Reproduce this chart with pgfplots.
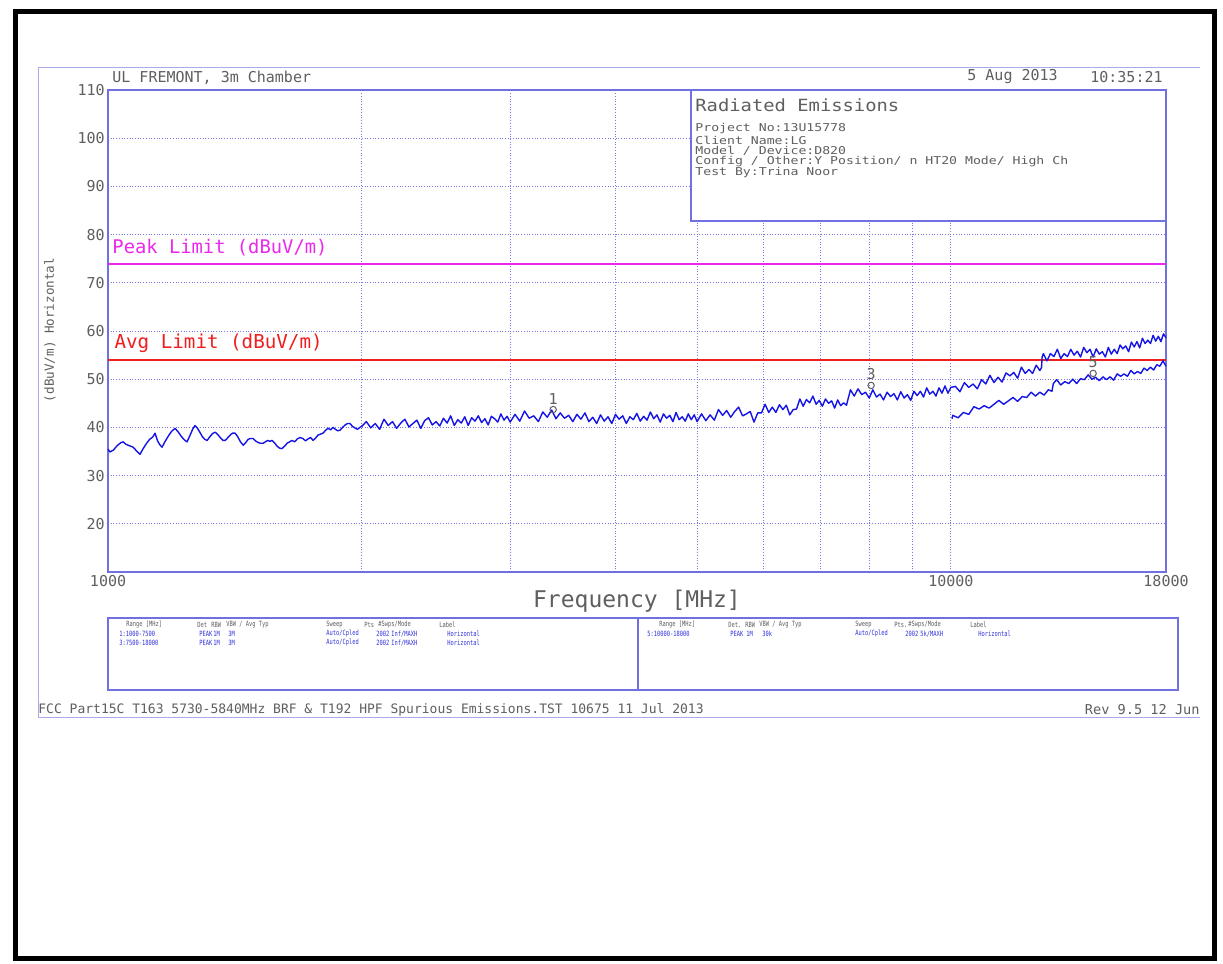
\documentclass[border=0pt]{standalone}
\usepackage{pgfplots}
\pgfplotsset{compat=1.18}
\usepackage{pgfplotstable}
\usepackage{fontspec}
\setmainfont{DejaVu Sans}
\newfontfamily\plotfont{DejaVu Sans Mono}
\newfontfamily\infofont[FakeStretch=1.12]{DejaVu Sans Mono}
\newfontfamily\widefont[FakeStretch=1.22]{DejaVu Sans Mono}
\newfontfamily\tabff[FakeStretch=0.75]{DejaVu Sans Mono}

\definecolor{frameblue}{RGB}{112,112,226}
\definecolor{gridblue}{RGB}{120,120,228}
\definecolor{tracecol}{RGB}{20,20,230}
\definecolor{txtgray}{RGB}{95,95,95}
\definecolor{peakmag}{RGB}{235,40,235}
\definecolor{avgred}{RGB}{240,30,30}
\definecolor{pagefr}{RGB}{170,170,235}
\definecolor{tabblue}{RGB}{50,50,220}

% peak trace, ranges 1 and 3 (1000-18000 MHz)
\pgfplotstableread{
f v
1000 35.5
1005 34.9
1015 35.3
1025 36.2
1035 36.8
1042 37.0
1050 36.5
1060 36.2
1071 35.9
1080 35.2
1091 34.4
1100 35.5
1110 36.6
1120 37.5
1130 38.0
1137 38.8
1145 37.2
1152 36.4
1159 35.9
1168 37.0
1180 38.3
1190 39.2
1201 39.8
1212 39.0
1222 38.1
1232 37.4
1241 37.0
1250 38.2
1260 39.6
1268 40.4
1276 39.9
1285 39.0
1295 38.0
1303 37.5
1311 37.3
1320 38.0
1330 38.7
1340 39.0
1350 38.5
1360 37.8
1369 37.3
1377 37.3
1386 37.8
1396 38.4
1405 38.8
1415 38.8
1425 38.1
1436 37.0
1447 36.3
1456 36.8
1466 37.5
1476 37.7
1486 37.7
1496 37.2
1506 36.9
1516 36.7
1527 36.7
1537 37.0
1547 37.3
1557 37.1
1565 37.3
1576 36.8
1587 36.1
1598 35.7
1608 35.6
1620 36.1
1631 36.7
1642 37.0
1653 37.3
1665 37.0
1677 37.6
1690 37.9
1703 37.7
1715 37.2
1727 37.6
1739 37.9
1751 37.3
1763 37.8
1775 38.4
1787 38.6
1799 38.8
1812 39.4
1824 39.8
1837 39.5
1849 40.0
1861 39.6
1873 39.3
1885 39.4
1898 40.0
1911 40.5
1924 40.8
1937 40.8
1950 40.2
1963 39.9
1977 39.6
1990 40.0
2000 40.2
2025 41.2
2050 39.9
2075 40.8
2100 39.6
2125 41.7
2150 40.4
2175 41.2
2200 39.8
2225 40.9
2250 41.7
2275 40.1
2300 40.8
2325 41.5
2350 39.8
2375 41.4
2400 42.0
2425 40.5
2450 41.2
2475 40.3
2500 41.9
2525 40.9
2550 42.4
2575 40.4
2600 41.6
2625 40.9
2650 42.2
2675 40.4
2700 42.0
2725 41.3
2750 42.4
2775 41.0
2800 41.8
2825 40.5
2850 42.3
2875 41.8
2900 41.1
2925 42.8
2950 41.5
2975 42.3
3000 41.1
3040 42.7
3080 41.3
3120 43.4
3160 41.9
3200 42.4
3240 41.2
3280 43.2
3320 42.1
3360 43.6
3400 41.8
3440 43.0
3480 41.9
3520 42.5
3560 41.2
3600 42.7
3640 41.7
3680 43.0
3720 41.2
3760 42.1
3800 40.8
3840 42.6
3880 41.3
3920 42.2
3960 40.8
4000 42.7
4040 41.7
4080 42.4
4120 40.8
4160 42.2
4200 41.6
4240 42.9
4280 41.3
4320 42.3
4360 41.5
4400 43.2
4440 41.8
4480 42.6
4520 41.1
4560 42.8
4600 41.9
4640 42.5
4680 41.2
4720 43.1
4760 41.6
4800 42.2
4840 41.3
4880 42.8
4920 41.6
4960 42.6
5000 41.2
5060 42.8
5120 41.4
5180 42.6
5240 41.5
5300 43.7
5360 42.5
5420 43.5
5480 42.1
5540 43.3
5600 44.2
5660 42.4
5720 42.8
5780 43.3
5840 41.1
5900 43.0
5960 43.0
6020 44.8
6080 43.1
6140 44.2
6200 43.1
6260 44.7
6320 43.7
6380 44.6
6440 42.6
6500 43.7
6560 43.8
6620 45.9
6680 44.4
6740 45.8
6800 45.1
6860 46.5
6920 44.8
6980 45.6
7040 44.4
7100 45.9
7160 45.0
7220 45.5
7280 44.0
7340 45.7
7400 44.5
7460 45.1
7520 44.6
7600 47.8
7680 46.5
7760 48.0
7840 46.8
7920 47.3
8000 46.1
8080 47.8
8160 46.3
8240 46.9
8320 45.7
8400 47.3
8480 46.4
8560 47.0
8640 45.7
8720 47.4
8800 46.1
8880 46.8
8960 45.6
9040 47.5
9120 46.6
9200 47.5
9280 46.3
9360 48.2
9440 46.9
9520 47.5
9600 46.5
9680 48.2
9760 47.1
9840 48.6
9920 47.1
10000 48.3
10125 48.5
10250 47.4
10375 49.3
10500 48.3
10625 49.0
10750 48.0
10875 49.9
11000 49.0
11125 50.8
11250 49.3
11375 50.4
11500 49.4
11625 51.3
11750 50.7
11875 51.4
12000 50.2
12125 52.5
12250 51.2
12375 52.0
12500 51.2
12625 52.9
12750 51.8
12810 52.4
12830 54.6
12875 55.3
13000 53.8
13125 55.3
13250 54.7
13375 56.2
13500 54.3
13625 55.3
13750 54.7
13875 56.2
14000 55.0
14125 55.8
14250 54.6
14375 56.6
14500 55.5
14625 56.2
14750 54.6
14875 56.3
15000 55.2
15125 55.7
15250 54.6
15375 56.6
15500 55.2
15625 56.2
15750 55.3
15875 57.1
16000 56.3
16125 56.9
16250 55.7
16375 57.7
16500 56.7
16625 57.8
16750 56.5
16875 58.5
17000 57.4
17125 58.1
17250 57.4
17375 59.1
17500 57.9
17625 58.9
17750 57.8
17875 59.4
18000 58.6
}\peaktrace

% range 5 trace (10000-18000 MHz)
\pgfplotstableread{
f v
10030 41.8
10050 42.5
10200 42.0
10350 43.1
10500 42.7
10650 44.3
10800 43.8
10950 44.5
11100 44.0
11250 44.8
11400 45.6
11550 44.8
11700 45.5
11850 46.2
12000 45.4
12150 46.4
12300 46.2
12450 47.3
12600 46.5
12750 47.3
12900 46.7
13050 47.8
13180 47.5
13230 49.1
13350 49.9
13500 48.8
13650 49.5
13800 49.1
13950 50.0
14100 49.1
14250 50.1
14400 49.9
14550 50.9
14700 50.0
14850 50.4
15000 49.7
15150 50.5
15300 49.9
15450 50.5
15600 49.8
15750 51.1
15900 50.6
16050 51.1
16200 50.6
16350 51.8
16500 51.1
16650 51.6
16800 51.2
16950 52.3
17100 51.8
17250 52.5
17400 51.9
17550 53.0
17700 52.7
17850 53.8
18000 52.7
}\lowtrace

\newcommand{\tabfont}{\tabff\fontsize{3.6}{4}\selectfont}
\newcommand{\tx}[4]{\node[anchor=west,inner sep=0pt,font=\tabfont,text=#4] at (#1,#2) {#3};}

\begin{document}
\begin{tikzpicture}
\path[use as bounding box] (0,0) rectangle (611.5pt,482pt);
\fill[white] (0,0) rectangle (611.5pt,482pt);

% page frames, drawn in pixel units (y downwards)
\begin{scope}[x=0.5pt,y=-0.5pt,yshift=482pt]
  \draw[line width=2.5pt] (15,12) rectangle (1214,959);
  \draw[pagefr,line width=0.5pt] (1200,68) -- (38,68) -- (38,718) -- (1200,718);
\end{scope}

\begin{axis}[
  at={(54pt,196pt)}, anchor=south west,
  width=529pt, height=241pt, scale only axis,
  xmode=log, xmin=1000, xmax=18000, ymin=10, ymax=110,
  xtick={1000,10000,18000}, xticklabels={1000,10000,18000},
  minor xtick={2000,3000,4000,5000,6000,7000,8000,9000},
  ytick={20,30,40,50,60,70,80,90,100,110},
  yticklabels={20,30,40,50,60,70,80,90,100,110},
  major tick length=0pt, minor tick length=0pt,
  xmajorgrids, xminorgrids, ymajorgrids,
  major grid style={gridblue, line width=0.45pt, dash pattern=on 0.45pt off 0.9pt},
  minor grid style={gridblue, line width=0.45pt, dash pattern=on 0.45pt off 0.9pt},
  axis line style={frameblue, line width=0.7pt},
  tick label style={font=\plotfont\fontsize{7.5}{9}\selectfont, text=txtgray,
    /pgf/number format/assume math mode=true},
  xticklabel style={inner sep=0pt, yshift=-1.5pt},
  yticklabel style={inner sep=0pt, xshift=-1.5pt},
  clip=false,
]
\addplot[peakmag, line width=1pt] coordinates {(1000,74) (18000,74)};
\addplot[avgred, line width=1pt] coordinates {(1000,54) (18000,54)};
\node[anchor=south west, inner sep=0pt, font=\plotfont\fontsize{9.4}{11}\selectfont, text=peakmag]
  at (axis cs:1011,75.4) {Peak Limit (dBuV/m)};
\node[anchor=south west, inner sep=0pt, font=\plotfont\fontsize{9.6}{11}\selectfont, text=avgred]
  at (axis cs:1017,55.4) {Avg Limit (dBuV/m)};

\addplot[tracecol, line width=0.7pt, line join=round] table[x=f, y=v] {\peaktrace};
\addplot[tracecol, line width=0.7pt, line join=round] table[x=f, y=v] {\lowtrace};

\addplot[only marks, mark=o, mark size=1.6pt, mark options={txtgray, line width=0.5pt},
  nodes near coords, point meta=explicit symbolic,
  every node near coord/.append style={font=\plotfont\fontsize{7.5}{9}\selectfont, text=txtgray, inner sep=0.5pt, yshift=2pt}]
  coordinates {(3374,43.7)[1] (8041,48.7)[3] (14750,51.2)[5]};
\end{axis}

\begin{scope}[x=0.5pt,y=-0.5pt,yshift=482pt]
  % info box
  \filldraw[fill=white, draw=frameblue, line width=0.6pt] (691,90) rectangle (1166,221);
  \node[anchor=west, inner sep=0pt, font=\infofont\fontsize{8.4}{10}\selectfont, text=txtgray] at (695,105) {Radiated Emissions};
  \begin{scope}[every node/.style={anchor=west, inner sep=0pt, font=\widefont\fontsize{5.4}{6.5}\selectfont, text=txtgray}]
    \node at (695,129) {Project No:13U15778};
    \node at (695,140) {Client Name:LG};
    \node at (695,151) {Model / Device:D820};
    \node at (695,162) {Config / Other:Y Position/ n HT20 Mode/ High Ch};
    \node at (695,173) {Test By:Trina Noor};
  \end{scope}

  % header
  \node[anchor=west, inner sep=0pt, font=\plotfont\fontsize{7.5}{9}\selectfont, text=txtgray] at (112,78) {UL FREMONT, 3m Chamber};
  \node[anchor=west, inner sep=0pt, font=\plotfont\fontsize{7.5}{9}\selectfont, text=txtgray] at (967,77) {5 Aug 2013};
  \node[anchor=east, inner sep=0pt, font=\plotfont\fontsize{7.5}{9}\selectfont, text=txtgray] at (1163,77) {10:35:21};

  % axis titles
  \node[inner sep=0pt, font=\plotfont\fontsize{11.5}{13}\selectfont, text=txtgray] at (637,601) {Frequency [MHz]};
  \node[inner sep=0pt, rotate=90, font=\plotfont\fontsize{6.3}{8}\selectfont, text=txtgray] at (50,330) {(dBuV/m) Horizontal};

  % range tables
  \draw[frameblue, line width=0.6pt] (108,618) rectangle (1178,690);
  \draw[frameblue, line width=0.6pt] (638,618) -- (638,690);
  \tx{126}{625}{Range [MHz]}{txtgray}
  \tx{197}{625}{Det}{txtgray}
  \tx{211}{625}{RBW}{txtgray}
  \tx{226}{625}{VBW / Avg Typ}{txtgray}
  \tx{326}{625}{Sweep}{txtgray}
  \tx{364}{625}{Pts}{txtgray}
  \tx{378}{625}{\#Swps/Mode}{txtgray}
  \tx{439}{625}{Label}{txtgray}
  \tx{119}{634}{1:1000-7500}{tabblue}
  \tx{199}{634}{PEAK}{tabblue}
  \tx{213}{634}{1M}{tabblue}
  \tx{228}{634}{3M}{tabblue}
  \tx{326}{634}{Auto/Cpled}{tabblue}
  \tx{376}{634}{2002}{tabblue}
  \tx{391}{634}{Inf/MAXH}{tabblue}
  \tx{447}{634}{Horizontal}{tabblue}
  \tx{119}{643}{3:7500-18000}{tabblue}
  \tx{199}{643}{PEAK}{tabblue}
  \tx{213}{643}{1M}{tabblue}
  \tx{228}{643}{3M}{tabblue}
  \tx{326}{643}{Auto/Cpled}{tabblue}
  \tx{376}{643}{2002}{tabblue}
  \tx{391}{643}{Inf/MAXH}{tabblue}
  \tx{447}{643}{Horizontal}{tabblue}
  \tx{659}{625}{Range [MHz]}{txtgray}
  \tx{728}{625}{Det.}{txtgray}
  \tx{745}{625}{RBW}{txtgray}
  \tx{759}{625}{VBW / Avg Typ}{txtgray}
  \tx{855}{625}{Sweep}{txtgray}
  \tx{894}{625}{Pts.}{txtgray}
  \tx{908}{625}{\#Swps/Mode}{txtgray}
  \tx{970}{625}{Label}{txtgray}
  \tx{647}{634}{5:10000-18000}{tabblue}
  \tx{730}{634}{PEAK}{tabblue}
  \tx{746}{634}{1M}{tabblue}
  \tx{762}{634}{30k}{tabblue}
  \tx{855}{634}{Auto/Cpled}{tabblue}
  \tx{905}{634}{2002}{tabblue}
  \tx{920}{634}{5k/MAXH}{tabblue}
  \tx{978}{634}{Horizontal}{tabblue}

  % footer
  \node[anchor=west, inner sep=0pt, font=\plotfont\fontsize{6.5}{8}\selectfont, text=txtgray] at (38,710)
    {FCC Part15C T163 5730-5840MHz BRF \& T192 HPF Spurious Emissions.TST 10675 11 Jul 2013};
  \node[anchor=east, inner sep=0pt, font=\plotfont\fontsize{6.8}{8}\selectfont, text=txtgray] at (1200,710) {Rev 9.5 12 Jun};
\end{scope}
\end{tikzpicture}
\end{document}
